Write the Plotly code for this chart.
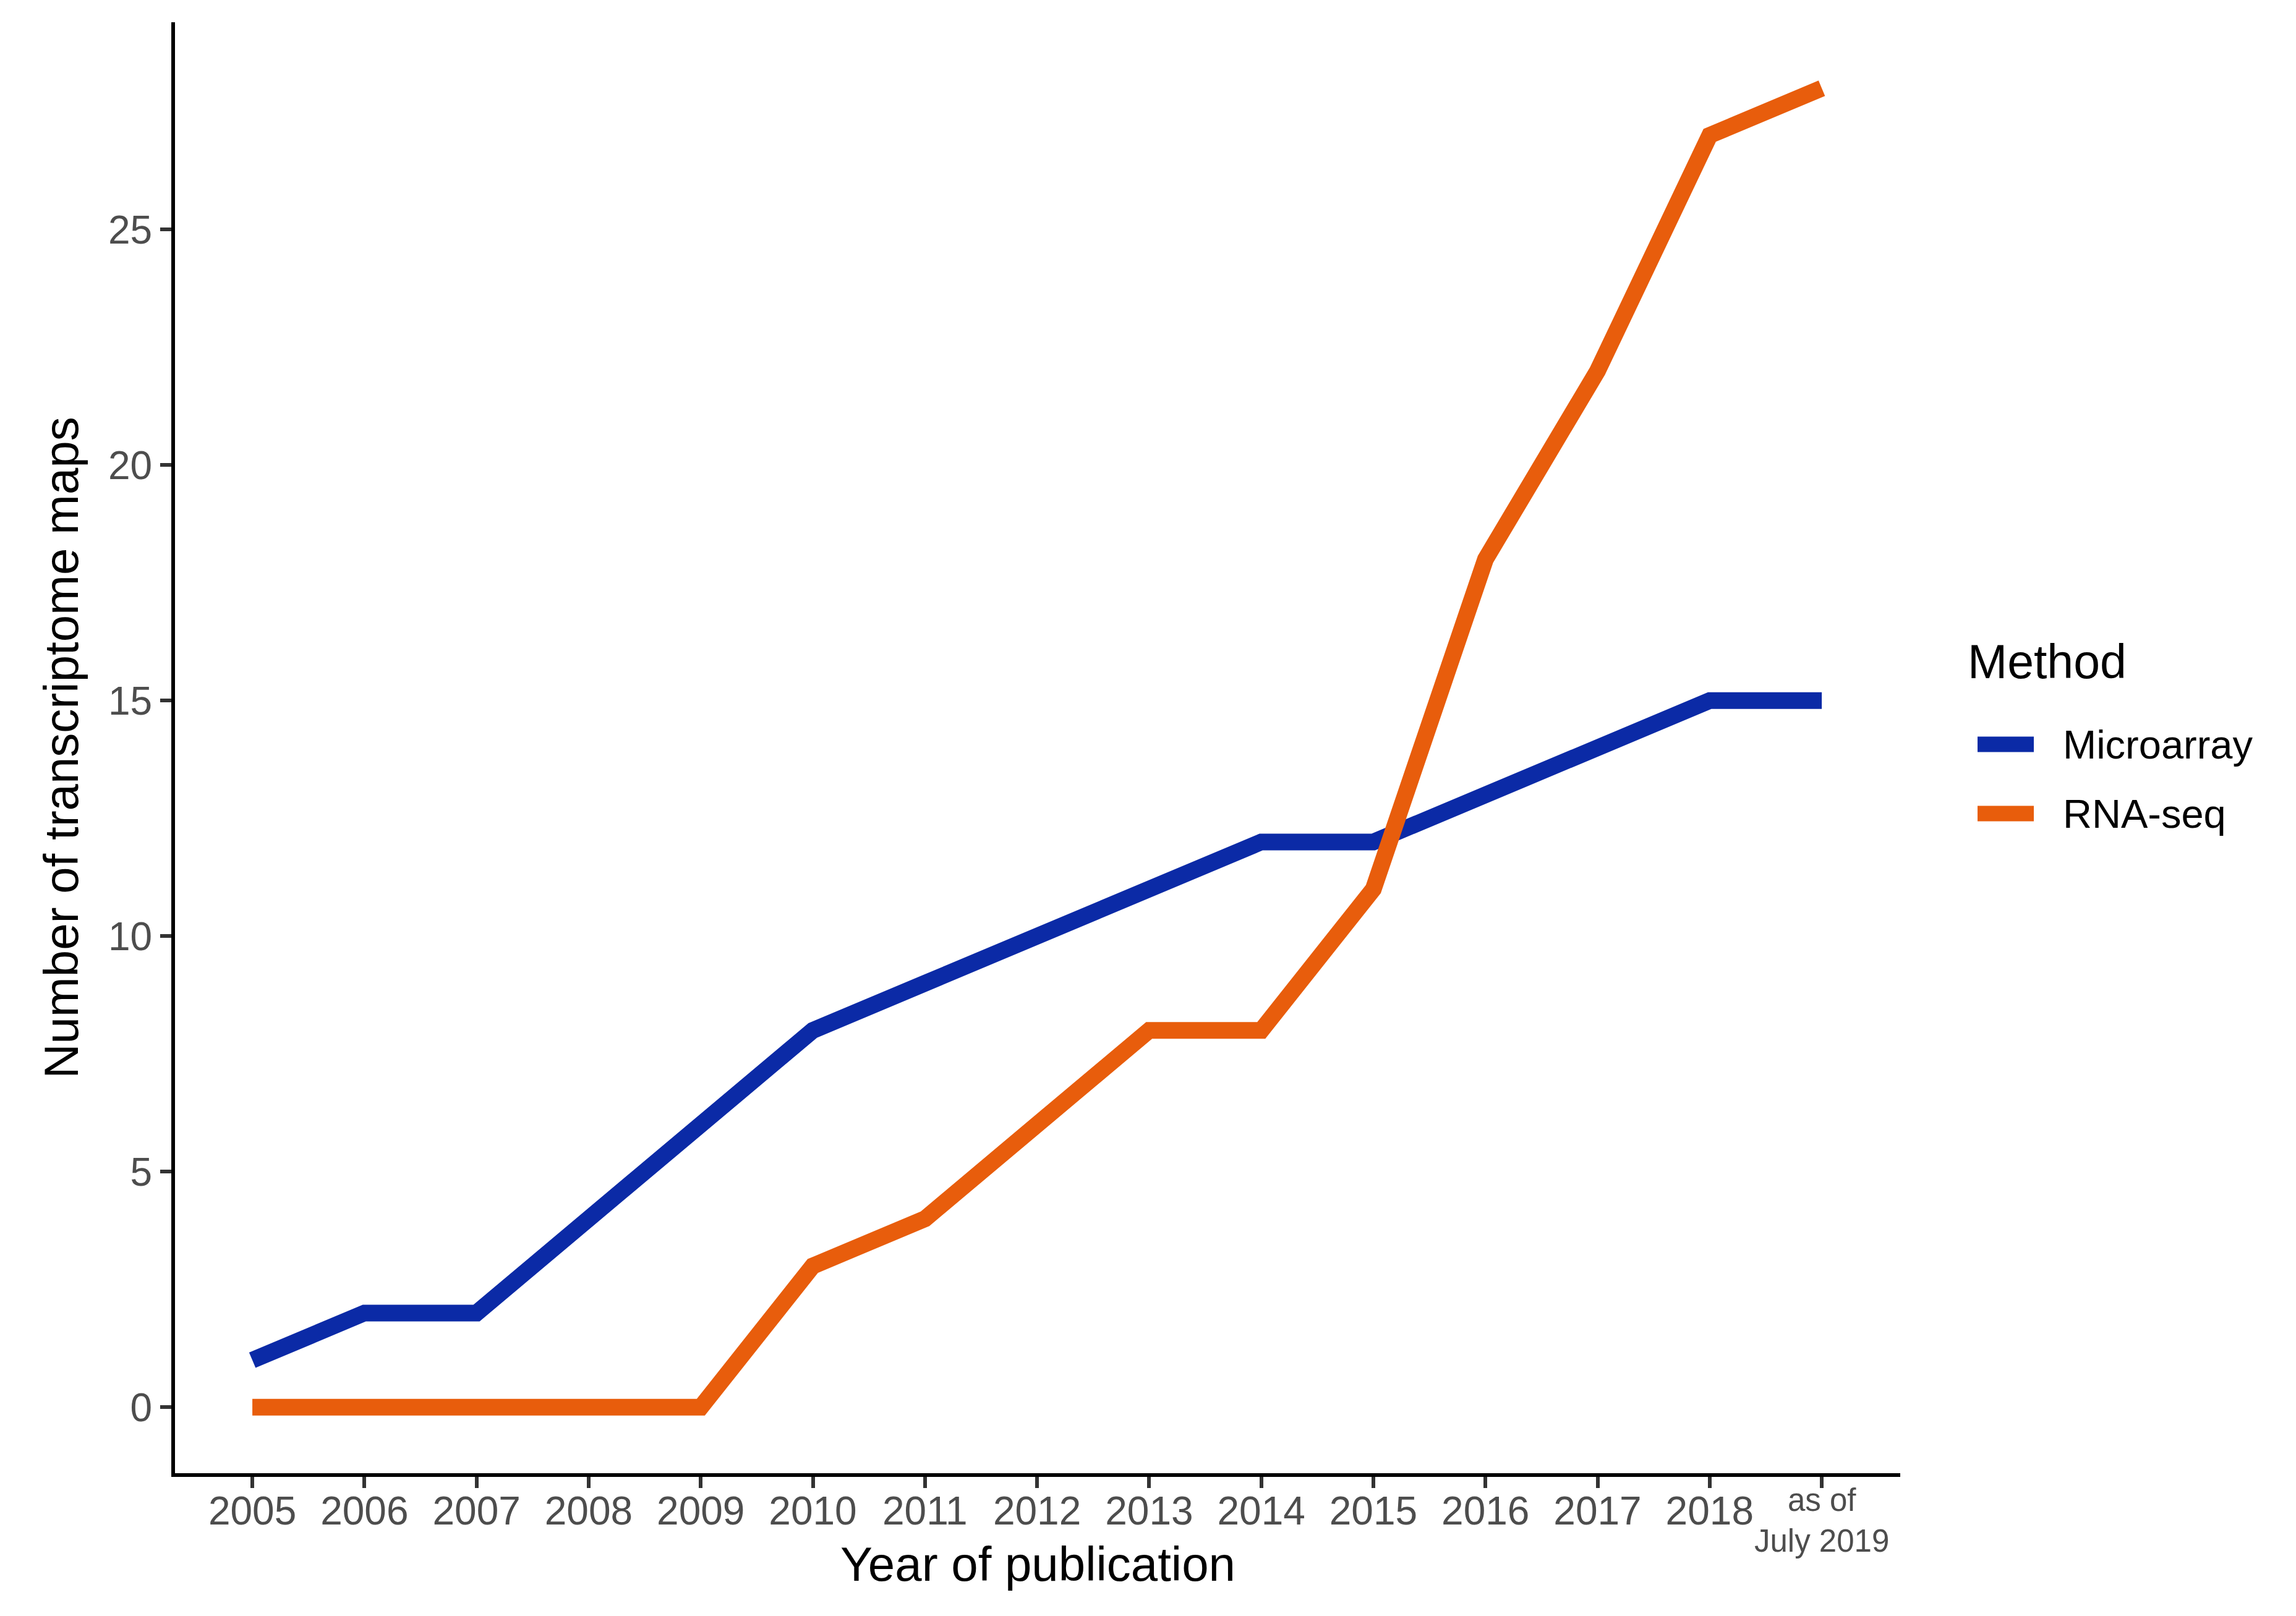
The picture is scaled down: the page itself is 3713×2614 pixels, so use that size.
import plotly.graph_objects as go

years = ["2005", "2006", "2007", "2008", "2009", "2010", "2011", "2012",
         "2013", "2014", "2015", "2016", "2017", "2018", "as of July 2019"]
tick_text = ["2005", "2006", "2007", "2008", "2009", "2010", "2011", "2012",
             "2013", "2014", "2015", "2016", "2017", "2018", ""]
last_label = "as of<br>July 2019"
microarray = [1, 2, 2, 4, 6, 8, 9, 10, 11, 12, 12, 13, 14, 15, 15]
rnaseq = [0, 0, 0, 0, 0, 3, 4, 6, 8, 8, 11, 18, 22, 27, 28]
y_ticks = [0, 5, 10, 15, 20, 25]

series_names = ["Microarray", "RNA-seq"]
series_colors = ["#0B2AA6", "#E85D0C"]

W, H = 3713, 2614
L, R, T, B = 275, 648, 28, 239
FONT = "Liberation Sans"

fig = go.Figure()
for name, vals, col in zip(series_names, [microarray, rnaseq], series_colors):
    fig.add_trace(go.Scatter(x=years, y=vals, mode="lines", name=name,
                             line=dict(color=col, width=27), showlegend=False))

fig.update_layout(
    width=W, height=H,
    margin=dict(l=L, r=R, t=T, b=B),
    paper_bgcolor="white", plot_bgcolor="white",
    font=dict(family=FONT, color="black"),
    xaxis=dict(type="category", categoryorder="array", categoryarray=years,
               tickmode="array", tickvals=years, ticktext=tick_text,
               range=[-0.69, 14.7], showgrid=False, zeroline=False,
               showline=True, linecolor="black", linewidth=6,
               ticks="outside", ticklen=18, tickwidth=6, tickcolor="#333333",
               ticklabelstandoff=-18,
               tickfont=dict(family=FONT, size=64, color="#4D4D4D")),
    yaxis=dict(range=[-1.4, 29.4], tickmode="array", tickvals=y_ticks,
               showgrid=False, zeroline=False,
               showline=True, linecolor="black", linewidth=6,
               ticks="outside", ticklen=18, tickwidth=6, tickcolor="#333333",
               tickfont=dict(family=FONT, size=64, color="#4D4D4D"),
               title=dict(text="Number of transcriptome maps",
                          font=dict(family=FONT, size=78, color="black"),
                          standoff=25)),
)

def px_x(x):
    return (x - L) / (W - L - R)

def px_y(y):
    return 1 - (y - T) / (H - T - B)

# last (two-line, smaller) x tick label
fig.add_annotation(text=last_label, xref="x", yref="paper",
                   x=years[-1], y=px_y(2451), xanchor="center", yanchor="middle",
                   showarrow=False, align="center",
                   font=dict(family=FONT, size=51, color="#4D4D4D"))

# x-axis title
fig.add_annotation(text="Year of publication", xref="paper", yref="paper",
                   x=0.5, y=px_y(2522), xanchor="center", yanchor="middle",
                   showarrow=False,
                   font=dict(family=FONT, size=78, color="black"))

# legend (drawn manually to match long ggplot keys)
fig.add_annotation(text="Method", xref="paper", yref="paper",
                   x=px_x(3172), y=px_y(1062), xanchor="left", yanchor="middle",
                   showarrow=False, font=dict(family=FONT, size=77, color="black"))
for i, (name, col) in enumerate(zip(series_names, series_colors)):
    yc = 1196 + i * 112
    fig.add_shape(type="line", xref="paper", yref="paper",
                  x0=px_x(3190), x1=px_x(3281), y0=px_y(yc), y1=px_y(yc),
                  line=dict(color=col, width=25))
    fig.add_annotation(text=name, xref="paper", yref="paper",
                       x=px_x(3326), y=px_y(yc), xanchor="left", yanchor="middle",
                       showarrow=False, font=dict(family=FONT, size=65, color="black"))

fig.write_html("out.html")
